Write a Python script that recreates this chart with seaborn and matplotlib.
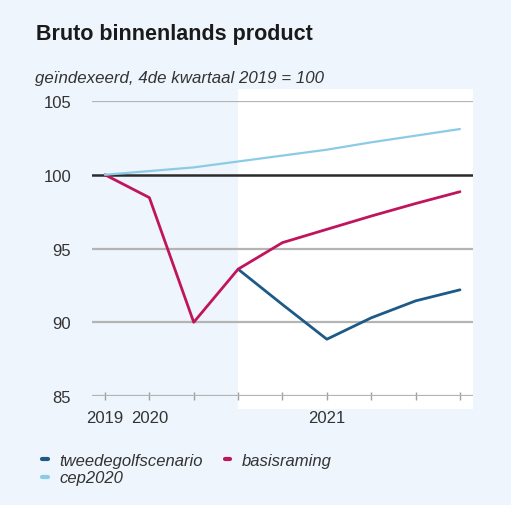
"""
Bruto binnenlands product: basisraming, tweedegolfscenario en cep2020.
"""

import matplotlib.pyplot as plt
import pandas as pd
import seaborn as sns
from matplotlib.lines import Line2D

# quarters on the x axis
quarters = ["2019K4", "2020K1", "2020K2", "2020K3", "2020K4",
            "2021K1", "2021K2", "2021K3", "2021K4"]
year_labels = {"2019K4": "2019", "2020K1": "2020", "2021K1": "2021"}

# index values, 4th quarter 2019 = 100
tweedegolf_quarters = ["2020K3", "2020K4", "2021K1", "2021K2", "2021K3", "2021K4"]
tweedegolf_values = [93.6, 91.2, 88.85, 90.3, 91.45, 92.2]
basis_values = [100.0, 98.45, 90.0, 93.6, 95.4, 96.3, 97.2, 98.05, 98.85]
cep_values = [100.0, 100.25, 100.5, 100.9, 101.3, 101.7, 102.2, 102.65, 103.1]

series_names = ["tweedegolfscenario", "basisraming", "cep2020"]
colors = {"tweedegolfscenario": "#1d5a87",
          "basisraming": "#c0155c",
          "cep2020": "#8ccbe6"}

BG = "#eef5fc"

frames = [
    pd.DataFrame({"kwartaal": tweedegolf_quarters, "bbp": tweedegolf_values,
                  "reeks": "tweedegolfscenario"}),
    pd.DataFrame({"kwartaal": quarters, "bbp": basis_values,
                  "reeks": "basisraming"}),
    pd.DataFrame({"kwartaal": quarters, "bbp": cep_values,
                  "reeks": "cep2020"}),
]
df = pd.concat(frames, ignore_index=True)
df["pos"] = df["kwartaal"].map(quarters.index)

sns.set_style("white")
plt.rcParams["font.family"] = ["Liberation Sans", "DejaVu Sans"]

fig = plt.figure(figsize=(5.11, 5.06), dpi=100, facecolor=BG)
ax = fig.add_axes([0.180, 0.2154, 0.7456, 0.583])
ax.set_facecolor(BG)

n = len(quarters)
x_left, x_right = -0.293, n - 1 + 0.293

# forecast panel (white), reaching a little beyond the plot area
ax.axvspan(3, x_right, ymin=-0.044, ymax=1.041, color="white",
           zorder=0, clip_on=False, lw=0)

for y in [85, 90, 95, 105]:
    ax.axhline(y, color="#b4b4b4", lw=1.6, zorder=1)
ax.axhline(100, color="#2b2b2b", lw=1.8, zorder=1)

for name in series_names:
    sub = df[df["reeks"] == name]
    sns.lineplot(data=sub, x="pos", y="bbp", ax=ax, color=colors[name],
                 lw=1.6 if name == "cep2020" else 2.0, zorder=3,
                 legend=False)

ax.set_xlim(x_left, x_right)
ax.set_ylim(85, 105)
ax.set_yticks([85, 90, 95, 100, 105])
ax.set_xticks(range(n))
ax.set_xticklabels([year_labels.get(q, "") for q in quarters])
ax.set_xlabel("")
ax.set_ylabel("")
for s in ax.spines.values():
    s.set_visible(False)

ax.tick_params(axis="y", length=0, pad=15, labelsize=12, labelcolor="#333333")
ax.tick_params(axis="x", bottom=True, direction="inout", length=6, width=1,
               color="#a0a0a0", pad=7, labelsize=12, labelcolor="#333333")

fig.text(0.070, 0.921, "Bruto binnenlands product", fontsize=15.5,
         fontweight="bold", color="#1a1a1a", va="baseline")
fig.text(0.068, 0.835, "geïndexeerd, 4de kwartaal 2019 = 100", fontsize=12.2,
         style="italic", color="#333333", va="baseline")

# legend filled column-wise: tweedegolf + cep in col 1, basis in col 2
order = ["tweedegolfscenario", "cep2020", "basisraming"]
handles = [Line2D([], [], color=colors[k], lw=3) for k in order]
leg = fig.legend(handles, order, loc="upper left",
                 bbox_to_anchor=(0.082, 0.103), ncol=2, frameon=False,
                 handlelength=0.35, handletextpad=0.7, columnspacing=1.3,
                 labelspacing=0.15, borderaxespad=0, borderpad=0,
                 prop={"size": 12, "style": "italic"})
for t in leg.get_texts():
    t.set_color("#333333")

plt.savefig("out.png", dpi=100, facecolor=BG)
